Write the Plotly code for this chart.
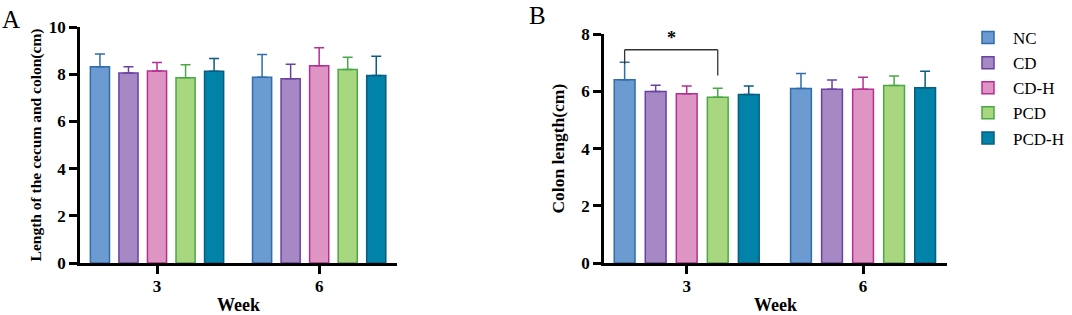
import plotly.graph_objects as go

weeks = ["3", "6"]
groups = ["NC", "CD", "CD-H", "PCD", "PCD-H"]

# Panel A: length of the cecum and colon (cm)
a_mean = {
    "NC": [8.32, 7.87],
    "CD": [8.05, 7.81],
    "CD-H": [8.14, 8.36],
    "PCD": [7.85, 8.20],
    "PCD-H": [8.12, 7.94],
}
a_sd = {
    "NC": [0.54, 0.97],
    "CD": [0.27, 0.61],
    "CD-H": [0.36, 0.76],
    "PCD": [0.55, 0.52],
    "PCD-H": [0.55, 0.82],
}
# Panel B: colon length (cm)
b_mean = {
    "NC": [6.41, 6.10],
    "CD": [6.00, 6.08],
    "CD-H": [5.92, 6.08],
    "PCD": [5.80, 6.21],
    "PCD-H": [5.89, 6.13],
}
b_sd = {
    "NC": [0.61, 0.53],
    "CD": [0.22, 0.32],
    "CD-H": [0.27, 0.42],
    "PCD": [0.31, 0.33],
    "PCD-H": [0.30, 0.58],
}
sig_pair = ("NC", "PCD")
sig_week = "3"
sig_label = "*"

fills = ["#6b9bd0", "#a688c4", "#de95c3", "#a9d780", "#0182a8"]
edges = ["#2f6dab", "#6a41a0", "#b52f93", "#4aa847", "#0b5c80"]

SERIF = "Liberation Serif, Times New Roman, serif"
H = 315
W = 1072

fig = go.Figure()
for i, g in enumerate(groups):
    fig.add_trace(go.Bar(
        x=weeks, y=a_mean[g], name=g, xaxis="x", yaxis="y",
        marker=dict(color=fills[i], line=dict(color=edges[i], width=1.5)),
        error_y=dict(type="data", symmetric=False, array=a_sd[g], arrayminus=[0] * len(weeks),
                     color=edges[i], thickness=1.5, width=5),
        offsetgroup=str(i), showlegend=False,
    ))
for i, g in enumerate(groups):
    fig.add_trace(go.Bar(
        x=weeks, y=b_mean[g], name=g, xaxis="x2", yaxis="y2",
        marker=dict(color=fills[i], line=dict(color=edges[i], width=1.5)),
        error_y=dict(type="data", symmetric=False, array=b_sd[g], arrayminus=[0] * len(weeks),
                     color=edges[i], thickness=1.5, width=5),
        offsetgroup=str(i), showlegend=True,
    ))

bargap = 0.12
slot = (1 - bargap) / len(groups)

def yd(top_px, bottom_px=263):
    return [(H - bottom_px) / H, (H - top_px) / H]

axis_common = dict(
    showline=True, linecolor="black", linewidth=2.5, ticks="outside", ticklen=8,
    tickwidth=2.5, tickcolor="black", showgrid=False, zeroline=False, automargin=False,
    tickfont=dict(family=SERIF, size=17, color="black", weight="bold"),
)

xtitle_font = dict(family=SERIF, size=18, color="black", weight="bold")

fig.update_layout(
    width=W, height=H, margin=dict(l=0, r=0, t=0, b=0, autoexpand=False),
    paper_bgcolor="white", plot_bgcolor="white",
    barmode="group", bargap=bargap, bargroupgap=0.33,
    xaxis=dict(domain=[80 / W, 397 / W], anchor="y", range=[-0.475, 1.48],
               ticklabelstandoff=-2,
               title=dict(text="Week", font=xtitle_font, standoff=4),
               **axis_common),
    yaxis=dict(domain=yd(27), anchor="x", range=[0, 10], tickvals=[0, 2, 4, 6, 8, 10],
               title=dict(text="Length of the cecum and colon(cm)",
                          font=dict(family=SERIF, size=15.5, color="black", weight="bold"), standoff=4),
               **axis_common),
    xaxis2=dict(domain=[604 / W, 947 / W], anchor="y2", range=[-0.469, 1.476],
                ticklabelstandoff=-2,
                title=dict(text="Week", font=xtitle_font, standoff=4),
                **axis_common),
    yaxis2=dict(domain=yd(34.3), anchor="x2", range=[0, 8], tickvals=[0, 2, 4, 6, 8],
                title=dict(text="Colon length(cm)",
                           font=dict(family=SERIF, size=17.5, color="black", weight="bold"), standoff=13),
                **axis_common),
    legend=dict(x=963 / W, xanchor="left", y=1 - 20 / H, yanchor="top",
                font=dict(family=SERIF, size=17, color="black"), itemwidth=40,
                bgcolor="rgba(0,0,0,0)", itemclick=False),
)

# Significance bracket (panel B)
wi = weeks.index(sig_week)
i1, i2 = groups.index(sig_pair[0]), groups.index(sig_pair[1])
x1 = wi + (i1 - (len(groups) - 1) / 2) * slot
x2 = wi + (i2 - (len(groups) - 1) / 2) * slot
top1 = b_mean[sig_pair[0]][wi] + b_sd[sig_pair[0]][wi]
top2 = b_mean[sig_pair[1]][wi] + b_sd[sig_pair[1]][wi]
yb = 7.46
fig.add_shape(type="line", xref="x2", yref="y2", x0=x1, x1=x1, y0=top1 - 0.05, y1=yb,
              line=dict(color="#333333", width=1.3))
fig.add_shape(type="line", xref="x2", yref="y2", x0=x1, x1=x2, y0=yb, y1=yb,
              line=dict(color="#333333", width=1.3))
fig.add_shape(type="line", xref="x2", yref="y2", x0=x2, x1=x2, y0=yb, y1=top2 + 0.45,
              line=dict(color="#333333", width=1.3))
fig.add_annotation(xref="x2", yref="y2", x=(x1 + x2) / 2, y=yb, text=sig_label, showarrow=False,
                   yanchor="bottom", yshift=0, font=dict(family=SERIF, size=18, color="black", weight="bold"))

# Panel letters
fig.add_annotation(xref="paper", yref="paper", x=0, y=1 - 19 / H, xanchor="left", yanchor="middle",
                   text="A", showarrow=False, font=dict(family=SERIF, size=25, color="black"))
fig.add_annotation(xref="paper", yref="paper", x=527 / W, y=1 - 15 / H, xanchor="left", yanchor="middle",
                   text="B", showarrow=False, font=dict(family=SERIF, size=25, color="black"))

fig.write_html("out.html", config={"displayModeBar": False},
               post_script="document.body.style.margin='0px';")
